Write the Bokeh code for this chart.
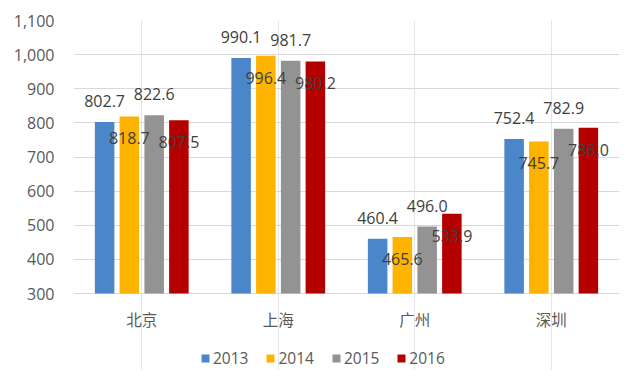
from bokeh.plotting import figure
from bokeh.models import ColumnDataSource, FactorRange, Range1d, NumeralTickFormatter, Legend, LegendItem, FixedTicker
from bokeh.transform import dodge
from bokeh.core.properties import value
from bokeh.embed import file_html
from bokeh.resources import INLINE

cities = ["北京", "上海", "广州", "深圳"]
years = ["2013", "2014", "2015", "2016"]
v2013 = [802.7, 990.1, 460.4, 752.4]
v2014 = [818.7, 996.4, 465.6, 745.7]
v2015 = [822.6, 981.7, 496.0, 782.9]
v2016 = [807.5, 980.2, 533.9, 786.0]
colors = ["#4A86C9", "#FDB300", "#939393", "#B50000"]
yticks = [300, 400, 500, 600, 700, 800, 900, 1000, 1100]

series = [v2013, v2014, v2015, v2016]
offsets = [-0.272, -0.091, 0.091, 0.272]
label_offsets = [-21, 22, -21, 22]

# frame spans 350 px; value axis 300..1100 covers the top 273 px
Y_MIN_AXIS, Y_MAX = 300, 1100
y_lo = Y_MIN_AXIS - (Y_MAX - Y_MIN_AXIS) * 77 / 273

p = figure(width=624, height=370, x_range=FactorRange(*cities), y_range=Range1d(y_lo, Y_MAX),
           output_backend="svg", toolbar_location=None, x_axis_location=None,
           min_border_left=73, min_border_right=5, min_border_top=20, min_border_bottom=0)
p.outline_line_color = None
p.background_fill_color = "white"
p.border_fill_color = "white"

FONT = "Open Sans"

items = []
for i, (yr, vals) in enumerate(zip(years, series)):
    src = ColumnDataSource(dict(city=cities, val=vals))
    r = p.vbar(x=dodge("city", offsets[i], range=p.x_range), top="val", bottom=Y_MIN_AXIS, width=0.143,
               source=src, fill_color=colors[i], line_color=None)
    items.append(LegendItem(label=yr, renderers=[r]))

for i, (yr, vals) in enumerate(zip(years, series)):
    src = ColumnDataSource(dict(city=cities, val=vals, lab=["%.1f" % v for v in vals]))
    p.text(x=dodge("city", offsets[i], range=p.x_range), y="val", text="lab", source=src,
           text_align="center", text_baseline="middle", y_offset=label_offsets[i],
           text_font=value(FONT), text_font_size="16px", text_color="#404040")

# category labels under the value axis baseline
csrc = ColumnDataSource(dict(city=cities, base=[Y_MIN_AXIS] * len(cities)))
p.text(x="city", y="base", text="city", source=csrc, text_align="center", text_baseline="middle",
       y_offset=25, text_font=value("Noto Sans CJK SC"), text_font_size="15.5px", text_color="#595959")

p.yaxis.ticker = FixedTicker(ticks=yticks)
p.yaxis.formatter = NumeralTickFormatter(format="0,0")
p.yaxis.axis_line_color = None
p.yaxis.major_tick_line_color = None
p.yaxis.minor_tick_line_color = None
p.yaxis.major_label_standoff = 13
p.yaxis.major_label_text_font = FONT
p.yaxis.major_label_text_font_size = "16px"
p.yaxis.major_label_text_color = "#595959"

p.ygrid.grid_line_color = "#D9D9D9"
p.ygrid.grid_line_width = 1

legend = Legend(items=items, orientation="horizontal", location=(127, 1),
                glyph_width=10, glyph_height=10, label_standoff=3, spacing=17,
                padding=0, margin=0, border_line_color=None, background_fill_alpha=0,
                label_text_font=FONT, label_text_font_size="15.5px", label_text_color="#595959")
p.add_layout(legend, "center")

open("out.html", "w").write(file_html(p, INLINE))
